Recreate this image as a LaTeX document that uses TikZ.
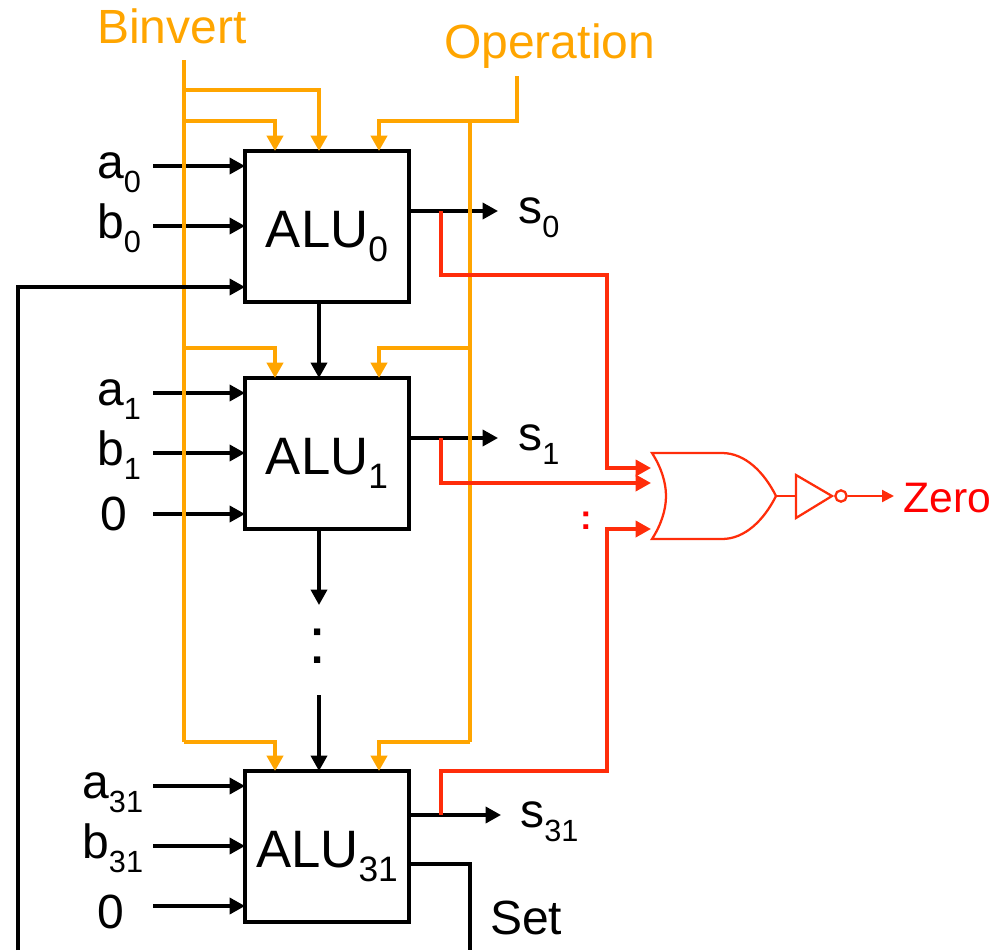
\documentclass[tikz,border=0pt]{standalone}
\usepackage{fontspec}
\setmainfont{Liberation Sans}
\usetikzlibrary{arrows.meta,calc}
\definecolor{ctl}{RGB}{255,165,0}
\definecolor{wire}{RGB}{255,45,10}
\definecolor{zerot}{RGB}{255,0,0}
\newcommand{\subs}[2]{#1\raisebox{-10.5pt}{\fontsize{23}{24}\selectfont #2}}
\newcommand{\bigsubs}[2]{#1\raisebox{-10.5pt}{\fontsize{26.5}{28}\selectfont #2}}
\tikzset{
  x=0.75pt,y=-0.75pt,
  black wire/.style={draw=black,line width=2.6pt,-{Triangle[length=11.5pt,width=12pt]}},
  black plain/.style={draw=black,line width=2.6pt},
  ctl wire/.style={draw=ctl,line width=2.9pt,line join=miter,-{Triangle[length=11.5pt,width=12pt]}},
  ctl plain/.style={draw=ctl,line width=2.9pt},
  red wire/.style={draw=wire,line width=2.7pt,line join=miter,-{Triangle[length=11.5pt,width=12pt]}},
  gate line/.style={draw=wire,line width=1.7pt,line join=miter},
  alubox/.style={draw=black,line width=3pt,fill=white,outer sep=0pt,minimum width=123pt,minimum height=113.25pt,inner sep=0pt,font=\fontsize{39.5}{42}\selectfont,text height=44pt,text depth=12pt,anchor=north west},
  lab/.style={inner sep=0pt,anchor=base west,font=\fontsize{36}{40}\selectfont,text=black},
  ctltext/.style={lab,text=ctl},
}
\begin{document}
\begin{tikzpicture}
\useasboundingbox (0,0) rectangle (996,950);
% ALU blocks
\node[alubox] (alu0) at (245,151) {\bigsubs{ALU}{0}};
\node[alubox] (alu1) at (245,378) {\bigsubs{ALU}{1}};
\node[alubox] (alu31) at (245,771) {\bigsubs{ALU}{31}};
% labels
\node[ctltext] (binvert) at (97,43) {Binvert};
\node[ctltext] (operation) at (444,58) {Operation};
\node[lab] (a0) at (97,178) {\subs{a}{0}};
\node[lab] (b0) at (97,238) {\subs{b}{0}};
\node[lab] (a1) at (97,405) {\subs{a}{1}};
\node[lab] (b1) at (97,465) {\subs{b}{1}};
\node[lab] (z1) at (100,530) {0};
\node[lab] (a31) at (82,798) {\subs{a}{31}};
\node[lab] (b31) at (82,858) {\subs{b}{31}};
\node[lab] (z31) at (97,928) {0};
\node[lab] (s0) at (518,223) {\subs{s}{0}};
\node[lab] (s1) at (518,450) {\subs{s}{1}};
\node[lab] (s31) at (520,827) {\subs{s}{31}};
\node[lab] (set) at (490,934) {Set};
% inputs
\foreach \n/\y/\bx in {a0/166/alu0,b0/226/alu0,a1/393/alu1,b1/453/alu1,z1/514/alu1,a31/786/alu31,b31/846/alu31,z31/906/alu31}{
  \coordinate (\n start) at (153,\y);
  \draw[black wire] (\n start) -- (\n start -| \bx.west);
}
% outputs
\coordinate (o0) at (498,211);
\coordinate (o1) at (498,438);
\coordinate (o31) at (501,815);
\draw[black wire] (alu0.east |- o0) -- (o0);
\draw[black wire] (alu1.east |- o1) -- (o1);
\draw[black wire] (alu31.east |- o31) -- (o31);
\coordinate (setc) at (470,864);
\coordinate (setend) at (470,950);
\draw[black plain] (alu31.east |- setc) -- (setc) -- (setend);
% control wires
\coordinate (bintop) at (184,60);
\coordinate (binbot) at (184,742);
\coordinate (optop) at (517,76);
\coordinate (opjoin) at (470,121);
\coordinate (opbot) at (470,742);
\coordinate (cA) at (275,0);
\coordinate (cB) at (319,0);
\coordinate (cC) at (379,0);
\draw[ctl plain] (bintop) -- (binbot);
\draw[ctl plain] (opjoin) -- (opbot);
\draw[ctl wire] (184,90) -- (319,90) -- (alu0.north -| cB);
\draw[ctl wire] (184,121) -- (275,121) -- (alu0.north -| cA);
\draw[ctl wire] (optop) -- (517,121) -- (379,121) -- (alu0.north -| cC);
\draw[ctl wire] (184,348) -- (275,348) -- (alu1.north -| cA);
\draw[ctl wire] (470,348) -- (379,348) -- (alu1.north -| cC);
\draw[ctl wire] (binbot) -- (275,742) -- (alu31.north -| cA);
\draw[ctl wire] (opbot) -- (379,742) -- (alu31.north -| cC);
% carry
\coordinate (carry) at (18,950);
\coordinate (carryc) at (18,287);
\draw[black wire] (carry) -- (carryc) -- (alu0.west |- carryc);
% carry chain
\draw[black wire] (alu0.south -| cB) -- (alu1.north -| cB);
\coordinate (chainend) at (319,605);
\coordinate (chain) at (319,695);
\draw[black wire] (alu1.south -| cB) -- (chainend);
\draw[black wire] (chain) -- (alu31.north -| cB);
\node[lab,anchor=center,font=\fontsize{49}{52}\selectfont] (dots) at (318,646.5) {:};
% red wires
\draw[red wire] (441,211) -- (441,275) -- (607,275) -- (607,468) -- (651,468);
\draw[red wire] (441,438) -- (441,483) -- (651,483);
\draw[red wire] (441,815) -- (441,771) -- (607,771) -- (607,529) -- (651,529);
% OR gate, inverter
\draw[gate line] (652,453) -- (722,453) .. controls (745,453) and (764,472) .. (776,496) .. controls (764,520) and (745,539) .. (722,539) -- (652,539) .. controls (661,525) and (666,510) .. (666,496) .. controls (666,482) and (661,467) .. (652,453) -- cycle;
\coordinate (orout) at (776,496);
\coordinate (invin) at (796,496);
\coordinate (zerotip) at (894,496);
\node[draw=wire,line width=1.7pt,circle,inner sep=0pt,minimum size=8.5pt] (bubble) at (841,496) {};
\draw[gate line] (796,475) -- (832,496) -- (796,518) -- cycle;
\draw[gate line] (orout) -- (invin);
\draw[draw=wire,line width=1.7pt,-{Triangle[length=9pt,width=9pt]}] (bubble) -- (zerotip);
\node[lab,text=zerot,font=\fontsize{32}{36}\selectfont] (zero) at (903,512) {Zero};
\node[lab,text=zerot,anchor=center,font=\fontsize{26}{30}\selectfont] (rdots) at (586.5,521) {\textbf{:}};
\end{tikzpicture}
\end{document}
